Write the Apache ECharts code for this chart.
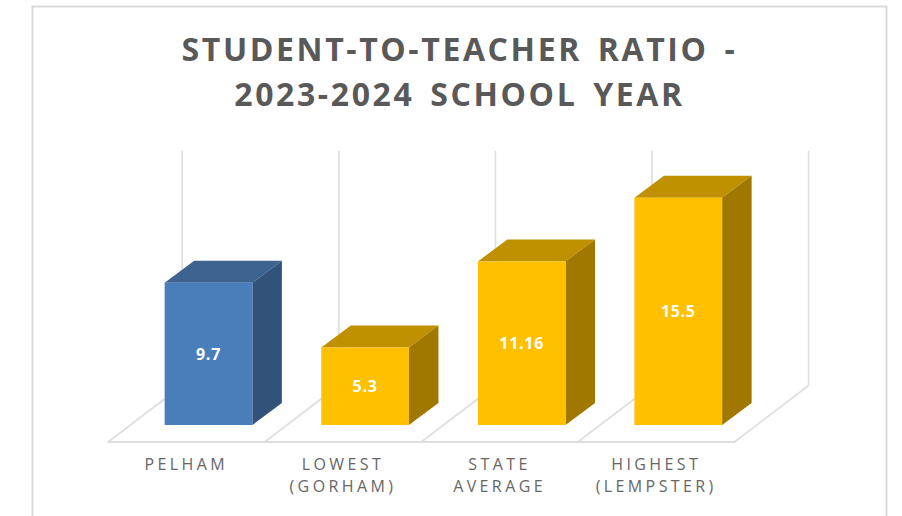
<!DOCTYPE html>
<html>
<head>
<meta charset="utf-8">
<title>Student-to-teacher ratio</title>
<style>
    html, body { margin: 0; padding: 0; background: #fff; }
    #main { width: 902px; height: 516px; }
    /* zrender has no letter spacing, so it is set on the svg text here */
    #main text[style*="32px"] { letter-spacing: 2.6px; word-spacing: 5px; }
    #main text[style*="16px"] { letter-spacing: 3.4px; }
    #main text[style*="bold 16px"] { letter-spacing: 0.7px; }
</style>
<script src="https://cdn.jsdelivr.net/npm/echarts@6/dist/echarts.min.js"></script>
</head>
<body>
<div id="main"></div>
<script>
var categories = ['PELHAM', 'LOWEST\n(GORHAM)', 'STATE\nAVERAGE', 'HIGHEST\n(LEMPSTER)'];
var ratios = [9.7, 5.3, 11.16, 15.5];
var highlighted = 'PELHAM';

var font = '"Open Sans", sans-serif';
var blue = { front: '#4a7ebb', top: '#3d6390', side: '#32527a' };
var gold = { front: '#ffc000', top: '#bf9000', side: '#a07800' };
var gridColor = '#dedede';

// oblique offset of the bars and of the floor, relative to the plane of the axis
var barDepth = [29.5, -22];
var floorFront = [-22.2, 16.9];
var floorBack = [52, -39.6];

function poly(points, fill) {
    return { type: 'polygon', shape: { points: points }, style: { fill: fill } };
}

function line(a, b) {
    return {
        type: 'line',
        shape: { x1: a[0], y1: a[1], x2: b[0], y2: b[1] },
        style: { stroke: gridColor, lineWidth: 1.6 }
    };
}

function renderFloor(params, api) {
    var i = api.value(0);
    var band = api.size([1, 0])[0];
    var center = api.coord([i, 0]);
    var top = api.coord([i, 16])[1];
    var children = [];
    var xs = i === categories.length - 1 ? [center[0] - band / 2, center[0] + band / 2] : [center[0] - band / 2];
    xs.forEach(function (x) {
        var back = [x + floorBack[0], center[1] + floorBack[1]];
        children.push(line([x + floorFront[0], center[1] + floorFront[1]], back));
        children.push(line(back, [back[0], top + floorBack[1]]));
    });
    return { type: 'group', children: children };
}

function renderBar(params, api) {
    var i = api.value(0);
    var value = api.value(1);
    var width = api.size([1, 0])[0] * 0.56;
    var base = api.coord([i, 0]);
    var head = api.coord([i, value]);
    var l = base[0] - width / 2, r = base[0] + width / 2;
    var dx = barDepth[0], dy = barDepth[1];
    var c = categories[i] === highlighted ? blue : gold;
    return {
        type: 'group',
        children: [
            poly([[l, head[1]], [r, head[1]], [r + dx, head[1] + dy], [l + dx, head[1] + dy]], c.top),
            poly([[r, head[1]], [r + dx, head[1] + dy], [r + dx, base[1] + dy], [r, base[1]]], c.side),
            { type: 'rect', shape: { x: l, y: head[1], width: width, height: base[1] - head[1] }, style: { fill: c.front } },
            {
                type: 'text',
                style: {
                    x: base[0],
                    y: (head[1] + base[1]) / 2,
                    text: String(value),
                    fill: '#fff',
                    font: 'bold 16px ' + font,
                    align: 'center',
                    verticalAlign: 'middle'
                }
            }
        ]
    };
}

var chart = echarts.init(document.getElementById('main'), null, { renderer: 'svg' });

var option = {
    animation: false,
    backgroundColor: '#fff',
    title: {
        text: 'STUDENT-TO-TEACHER RATIO -\n2023-2024 SCHOOL YEAR',
        left: 454.5,
        top: 21.5,
        textAlign: 'center',
        textStyle: {
            fontFamily: font,
            fontSize: 32,
            fontWeight: 'bold',
            color: '#595959',
            lineHeight: 44.5
        }
    },
    graphic: [{
        type: 'polyline',
        silent: true,
        shape: { points: [[32.5, 516], [32.5, 6.5], [886.5, 6.5], [886.5, 516]] },
        style: { fill: 'none', stroke: '#d9d9d9', lineWidth: 2 }
    }],
    grid: [
        // the floor's front edge carries the labels
        { left: 108, width: 626.5, top: 400, height: 41.5 },
        // the plane the bar fronts stand on
        { left: 130.2, width: 626.4, top: 190.5, height: 234.6 }
    ],
    xAxis: [
        {
            type: 'category',
            gridIndex: 0,
            data: categories,
            axisTick: { show: false },
            axisLine: { lineStyle: { color: gridColor, width: 2 } },
            axisLabel: {
                margin: 11,
                fontFamily: font,
                fontSize: 16,
                fontWeight: 'normal',
                lineHeight: 22,
                color: '#666666',
                interval: 0
            }
        },
        {
            type: 'category',
            gridIndex: 1,
            data: categories,
            show: false
        }
    ],
    yAxis: [
        { type: 'value', gridIndex: 0, show: false, min: 0, max: 1 },
        { type: 'value', gridIndex: 1, show: false, min: 0, max: 16 }
    ],
    series: [
        {
            type: 'custom',
            xAxisIndex: 1,
            yAxisIndex: 1,
            renderItem: renderFloor,
            silent: true,
            z: 1,
            encode: { x: 0, y: 1 },
            data: categories.map(function (c, i) { return [i, 0]; })
        },
        {
            type: 'custom',
            xAxisIndex: 1,
            yAxisIndex: 1,
            renderItem: renderBar,
            z: 2,
            encode: { x: 0, y: 1 },
            data: ratios.map(function (v, i) { return [i, v]; })
        }
    ]
};

chart.setOption(option);
</script>
</body>
</html>
